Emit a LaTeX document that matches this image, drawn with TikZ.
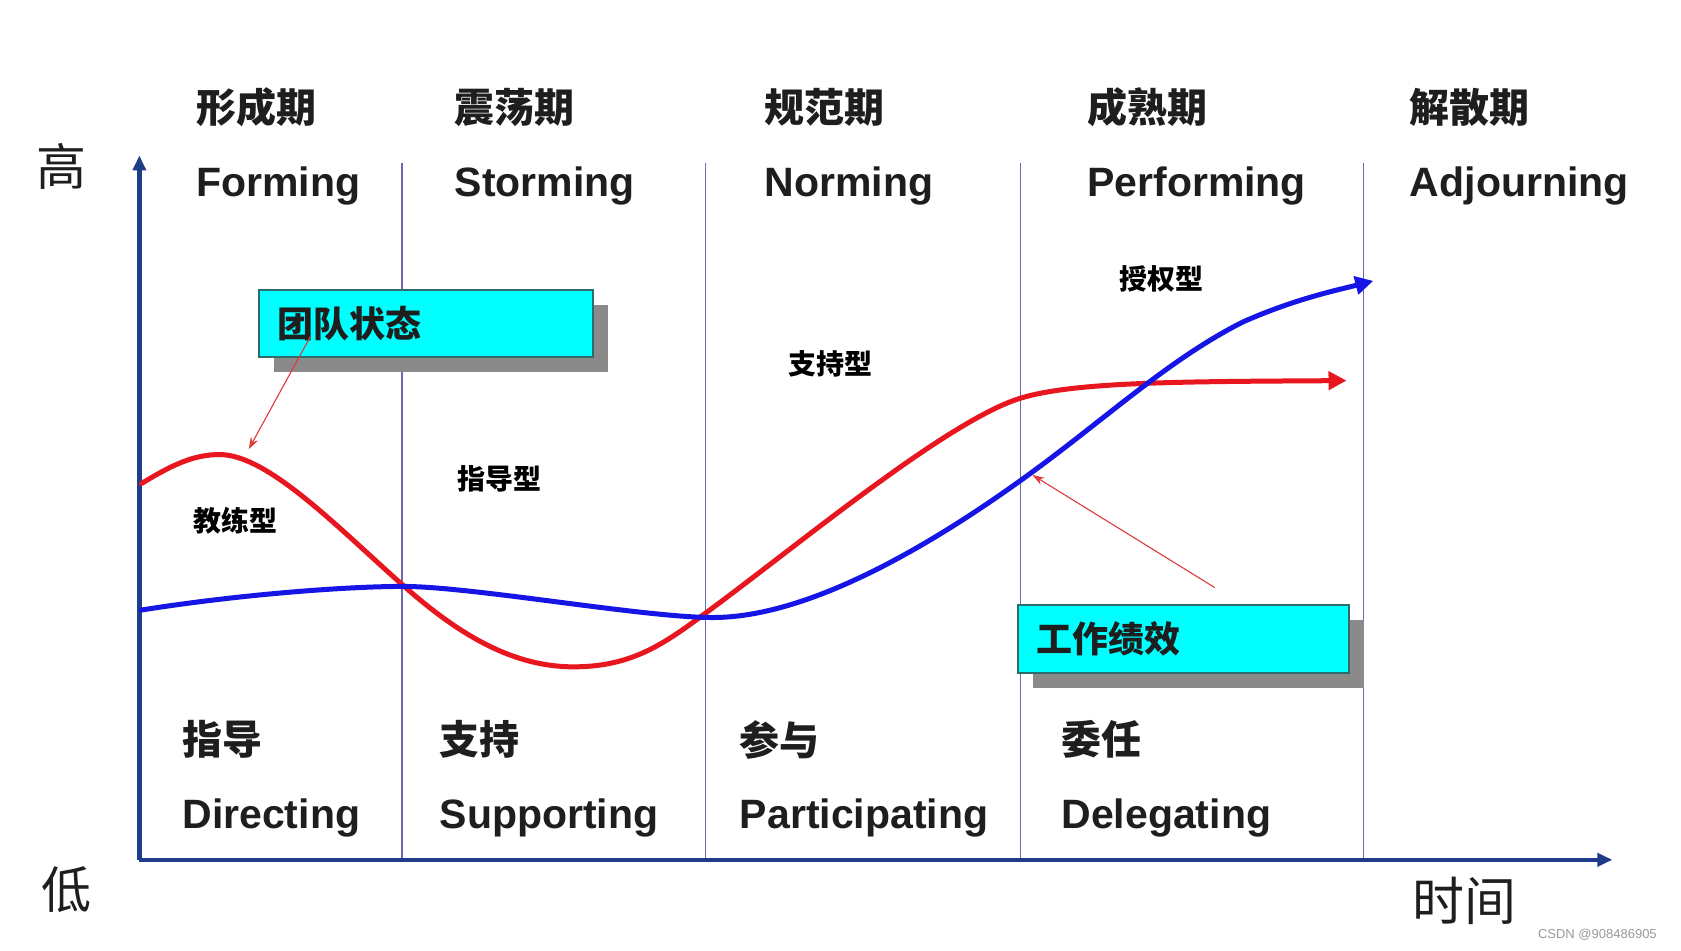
\documentclass[tikz,border=0pt]{standalone}
\usepackage{fontspec}
\setmainfont{Liberation Sans}
\newfontfamily\cjk{Noto Sans CJK SC}
\usetikzlibrary{arrows.meta,shadows}
\definecolor{axisblue}{HTML}{1F3C88}
\definecolor{divline}{HTML}{6A6AB0}
\definecolor{curvered}{HTML}{E8161E}
\definecolor{curveblue}{HTML}{1515E6}
\definecolor{boxcyan}{HTML}{00FFFF}
\definecolor{boxedge}{HTML}{2E6B6B}
\definecolor{shadowgray}{HTML}{8A8A8A}
\definecolor{txt}{HTML}{1E1E1E}
\definecolor{annot}{HTML}{E03A3A}
\definecolor{wm}{HTML}{9A9A9A}
\begin{document}
\begin{tikzpicture}[x=1.0721pt,y=-1.0721pt,
  stagecn/.style={font=\cjk\bfseries\fontsize{40}{40}\selectfont, text=txt, anchor=west, inner sep=0pt},
  stageen/.style={font=\bfseries\fontsize{41}{41}\selectfont, text=txt, anchor=base west, inner sep=0pt},
  styletype/.style={font=\cjk\bfseries\fontsize{28}{28}\selectfont, text=black, inner sep=0pt},
  axislabel/.style={font=\cjk\fontsize{50}{50}\selectfont, text=txt, inner sep=0pt},
  axisline/.style={draw=axisblue, line width=4.6pt, -{Triangle[length=15pt,width=13pt]}},
  divider/.style={draw=divline, line width=1.5pt},
  cbox/.style={draw=boxedge, line width=2pt, fill=boxcyan, anchor=north west,
    font=\cjk\bfseries\fontsize{36}{36}\selectfont, text=txt, align=left,
    inner xsep=18pt, inner ysep=0pt,
    drop shadow={fill=shadowgray, opacity=1, shadow xshift=15pt, shadow yshift=-15pt}},
  annotarrow/.style={draw=annot, line width=1.1pt, -{Stealth[length=12pt,width=8pt]}},
  redcurve/.style={draw=curvered, line width=5pt, line cap=round, -{Triangle[length=18pt,width=18pt]}},
  bluecurve/.style={draw=curveblue, line width=5pt, line cap=round, -{Triangle[length=18pt,width=18pt]}}
]
\fill[white] (0,0) rectangle (1568,887);
\useasboundingbox (0,0) rectangle (1568,887);

% dividers
\foreach \i/\x in {1/375,2/658,3/952,4/1272}{
  \coordinate (d\i t) at (\x,152);
  \coordinate (d\i b) at (\x,802);
  \draw[divider] (d\i t) -- (d\i b);
}

% axes
\coordinate (O) at (130,802);
\coordinate (ytop) at (130,145);
\coordinate (xend) at (1504,802);
\draw[axisline] (O) -- (ytop);
\draw[axisline] (O) -- (xend);

\node[axislabel] (hi) at (57,155) {高};
\node[axislabel] (lo) at (62,830) {低};
\node[axislabel, font=\cjk\fontsize{52}{52}\selectfont] (time) at (1366,840) {时间};

% stage headings
\node[stagecn] (s1c) at (183,100) {形成期};
\node[stagecn] (s2c) at (424,100) {震荡期};
\node[stagecn] (s3c) at (713,100) {规范期};
\node[stagecn] (s4c) at (1014,100) {成熟期};
\node[stagecn] (s5c) at (1315,100) {解散期};
\node[stageen] (s1e) at (183,183) {Forming};
\node[stageen] (s2e) at (424,183) {Storming};
\node[stageen] (s3e) at (713,183) {Norming};
\node[stageen] (s4e) at (1014,183) {Performing};
\node[stageen] (s5e) at (1315,183) {Adjourning};

% bottom leadership styles
\node[stagecn] (b1c) at (170,690) {指导};
\node[stagecn] (b2c) at (410,690) {支持};
\node[stagecn] (b3c) at (690,690) {参与};
\node[stagecn] (b4c) at (990,690) {委任};
\node[stageen] (b1e) at (170,773) {Directing};
\node[stageen] (b2e) at (410,773) {Supporting};
\node[stageen] (b3e) at (690,773) {Participating};
\node[stageen] (b4e) at (990,773) {Delegating};

% curves
\draw[redcurve] (132,451) .. controls (160,434) and (180,424) .. (205,424)
  .. controls (250,424) and (316,493) .. (376,546)
  .. controls (430,594) and (480,622) .. (535,622)
  .. controls (590,622) and (620,600) .. (658,572)
  .. controls (740,512) and (880,395) .. (950,372)
  .. controls (1000,356) and (1100,356) .. (1256,355);
\draw[bluecurve] (132,569) .. controls (220,555) and (320,547) .. (376,547)
  .. controls (440,547) and (600,576) .. (665,576)
  .. controls (760,576) and (880,500) .. (955,446)
  .. controls (1030,392) and (1090,335) .. (1160,300)
  .. controls (1210,278) and (1250,270) .. (1281,262);

% cyan boxes
\node[cbox, minimum width=333.4pt, minimum height=66.5pt, text width=297.4pt] (box1) at (241,270) {团队状态};
\node[cbox, minimum width=330.2pt, minimum height=68.6pt, text width=294.2pt] (box2) at (949,563) {工作绩效};

% annotation arrows
\coordinate (a1s) at (290,313);
\coordinate (a1e) at (232,419);
\draw[annotarrow] (a1s) -- (a1e);
\coordinate (a2s) at (1133,548);
\coordinate (a2e) at (963,443);
\draw[annotarrow] (a2s) -- (a2e);

% style labels
\node[styletype] (t1) at (220,486) {教练型};
\node[styletype] (t2) at (466,447) {指导型};
\node[styletype] (t3) at (775,339) {支持型};
\node[styletype] (t4) at (1083,260) {授权型};

% watermark
\node[font=\fontsize{13}{13}\selectfont, text=wm, inner sep=0pt] (wmk) at (1490,872) {CSDN @908486905};
\end{tikzpicture}
\end{document}
